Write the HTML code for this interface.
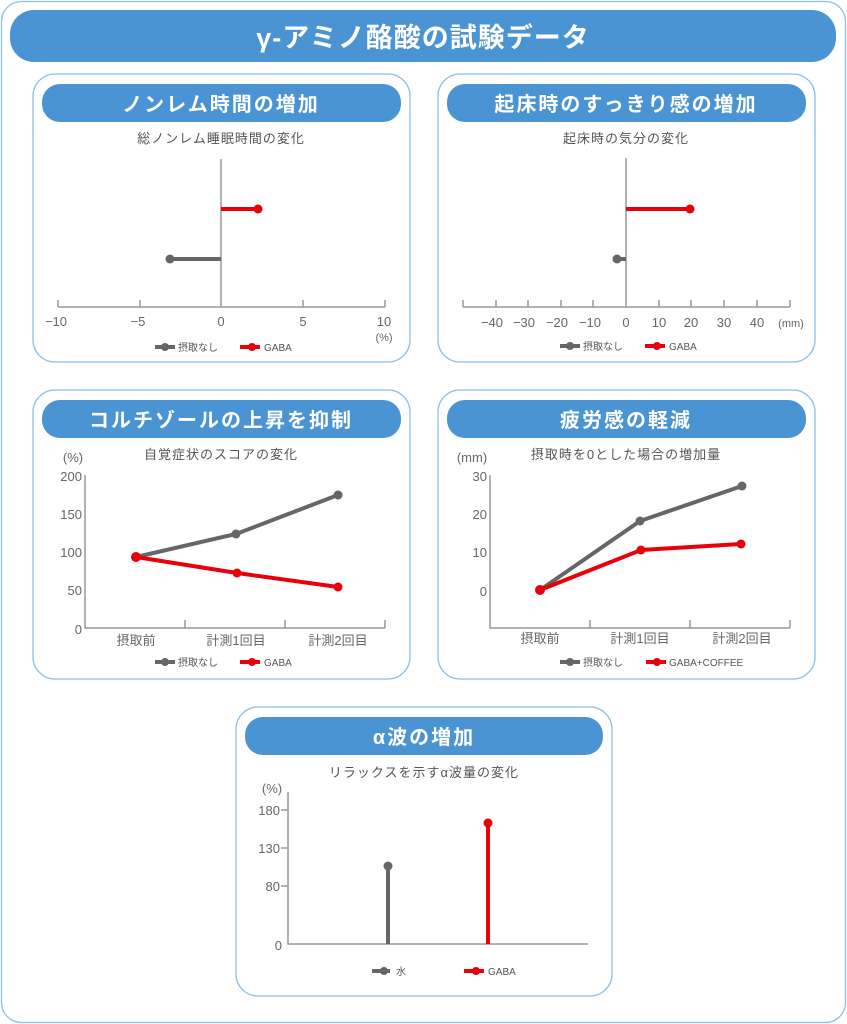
<!DOCTYPE html>
<html><head><meta charset="utf-8"><style>
html,body{margin:0;padding:0;background:#fff;}
svg{display:block;}
text{font-family:"Liberation Sans","Noto Sans CJK JP",sans-serif;}
.t{fill:#666;font-size:13px;}
.s{fill:#555;font-size:13px;letter-spacing:1px;}
.h{fill:#fff;font-size:20px;font-weight:bold;letter-spacing:2px;}
.l{fill:#555;font-size:10px;}
.ax{stroke:#999;stroke-width:1.5;fill:none;}
.g{stroke:#666;stroke-width:4;fill:none;}
.r{stroke:#e8000b;stroke-width:4;fill:none;}
.gd{fill:#666;}
.rd{fill:#e8000b;}
.p{fill:#fff;stroke:#8cc0e6;stroke-width:1.3;}
.hb{fill:#4a94d4;}
</style></head><body>
<svg width="847" height="1024" viewBox="0 0 847 1024">
<rect x="1.5" y="1.5" width="844" height="1021" rx="20" fill="#fff" stroke="#8cc0e6" stroke-width="1.3"/>
<rect x="10" y="10" width="826" height="52" rx="24" class="hb"/>
<text x="423" y="47" text-anchor="middle" fill="#fff" font-size="27" font-weight="bold" letter-spacing="1">γ-アミノ酪酸の試験データ</text>

<!-- Panel 1 -->
<rect x="33" y="74" width="377" height="288" rx="22" class="p"/>
<rect x="42" y="84" width="359" height="38" rx="18" class="hb"/>
<text x="221" y="111" text-anchor="middle" class="h">ノンレム時間の増加</text>
<text x="221" y="143" text-anchor="middle" class="s">総ノンレム睡眠時間の変化</text>
<line x1="221" y1="159" x2="221" y2="307" class="ax"/>
<path d="M58 307H385M58 300V307M140 300V307M303 300V307M385 300V307" class="ax"/>
<g class="t" text-anchor="middle">
<text x="56" y="326">−10</text><text x="138" y="326">−5</text><text x="221" y="326">0</text><text x="303" y="326">5</text><text x="384" y="326">10</text>
<text x="384" y="341" font-size="11">(%)</text></g>
<line x1="221" y1="209" x2="258" y2="209" class="r"/><circle cx="258" cy="209" r="4.5" class="rd"/>
<line x1="170" y1="259" x2="221" y2="259" class="g"/><circle cx="170" cy="259" r="4.5" class="gd"/>
<line x1="155" y1="347" x2="175" y2="347" class="g" stroke-width="3"/><circle cx="165" cy="347" r="4" class="gd"/>
<text x="178" y="351" class="l">摂取なし</text>
<line x1="240" y1="347" x2="260" y2="347" class="r" stroke-width="3"/><circle cx="252" cy="347" r="4" class="rd"/>
<text x="264" y="351" class="l">GABA</text>

<!-- Panel 2 -->
<rect x="438" y="74" width="377" height="288" rx="22" class="p"/>
<rect x="447" y="84" width="359" height="38" rx="18" class="hb"/>
<text x="626" y="111" text-anchor="middle" class="h">起床時のすっきり感の増加</text>
<text x="626" y="143" text-anchor="middle" class="s">起床時の気分の変化</text>
<line x1="626" y1="158" x2="626" y2="307" class="ax"/>
<path d="M463 307H790M463 300V307M496 300V307M528 300V307M561 300V307M593 300V307M659 300V307M691 300V307M724 300V307M757 300V307M790 300V307" class="ax"/>
<g class="t" text-anchor="middle">
<text x="492" y="327">−40</text><text x="524" y="327">−30</text><text x="557" y="327">−20</text><text x="590" y="327">−10</text><text x="626" y="327">0</text><text x="659" y="327">10</text><text x="691" y="327">20</text><text x="724" y="327">30</text><text x="757" y="327">40</text><text x="791" y="327" font-size="11">(mm)</text></g>
<line x1="626" y1="209" x2="690" y2="209" class="r"/><circle cx="690" cy="209" r="4.5" class="rd"/>
<line x1="617" y1="259" x2="626" y2="259" class="g"/><circle cx="617" cy="259" r="4.5" class="gd"/>
<line x1="560" y1="346" x2="580" y2="346" class="g" stroke-width="3"/><circle cx="570" cy="346" r="4" class="gd"/>
<text x="583" y="350" class="l">摂取なし</text>
<line x1="645" y1="346" x2="665" y2="346" class="r" stroke-width="3"/><circle cx="657" cy="346" r="4" class="rd"/>
<text x="669" y="350" class="l">GABA</text>

<!-- Panel 3 -->
<rect x="33" y="390" width="377" height="289" rx="22" class="p"/>
<rect x="42" y="400" width="359" height="38" rx="18" class="hb"/>
<text x="221" y="427" text-anchor="middle" class="h">コルチゾールの上昇を抑制</text>
<text x="221" y="459" text-anchor="middle" class="s">自覚症状のスコアの変化</text>
<text x="73" y="462" text-anchor="middle" class="t" font-size="11">(%)</text>
<path d="M85 475V628H385M185 620V628M285 620V628M385 620V628" class="ax"/>
<g class="t" text-anchor="end">
<text x="82" y="481">200</text><text x="82" y="519">150</text><text x="82" y="557">100</text><text x="82" y="595">50</text><text x="82" y="634">0</text></g>
<g class="t" text-anchor="middle"><text x="136" y="645">摂取前</text><text x="236" y="645">計測1回目</text><text x="338" y="645">計測2回目</text></g>
<polyline points="136,557 236,534 338,495" class="g"/>
<circle cx="236" cy="534" r="4.5" class="gd"/><circle cx="338" cy="495" r="4.5" class="gd"/>
<polyline points="136,557 237,573 338,587" class="r"/>
<circle cx="136" cy="557" r="5" class="rd"/><circle cx="237" cy="573" r="4.5" class="rd"/><circle cx="338" cy="587" r="4.5" class="rd"/>
<line x1="155" y1="662" x2="175" y2="662" class="g" stroke-width="3"/><circle cx="165" cy="662" r="4" class="gd"/>
<text x="178" y="666" class="l">摂取なし</text>
<line x1="240" y1="662" x2="260" y2="662" class="r" stroke-width="3"/><circle cx="252" cy="662" r="4" class="rd"/>
<text x="264" y="666" class="l">GABA</text>

<!-- Panel 4 -->
<rect x="438" y="390" width="377" height="289" rx="22" class="p"/>
<rect x="447" y="400" width="359" height="38" rx="18" class="hb"/>
<text x="626" y="427" text-anchor="middle" class="h">疲労感の軽減</text>
<text x="626" y="459" text-anchor="middle" class="s">摂取時を0とした場合の増加量</text>
<text x="472" y="462" text-anchor="middle" class="t" font-size="11">(mm)</text>
<path d="M490 475V628H790M590 620V628M690 620V628M790 620V628" class="ax"/>
<g class="t" text-anchor="end">
<text x="487" y="481">30</text><text x="487" y="519">20</text><text x="487" y="557">10</text><text x="487" y="596">0</text></g>
<g class="t" text-anchor="middle"><text x="540" y="643">摂取前</text><text x="640" y="643">計測1回目</text><text x="742" y="643">計測2回目</text></g>
<polyline points="540,590 640,521 742,486" class="g"/>
<circle cx="640" cy="521" r="4.5" class="gd"/><circle cx="742" cy="486" r="4.5" class="gd"/>
<polyline points="540,590 641,550 741,544" class="r"/>
<circle cx="540" cy="590" r="5" class="rd"/><circle cx="641" cy="550" r="4.5" class="rd"/><circle cx="741" cy="544" r="4.5" class="rd"/>
<line x1="560" y1="662" x2="580" y2="662" class="g" stroke-width="3"/><circle cx="570" cy="662" r="4" class="gd"/>
<text x="583" y="666" class="l">摂取なし</text>
<line x1="646" y1="662" x2="666" y2="662" class="r" stroke-width="3"/><circle cx="657" cy="662" r="4" class="rd"/>
<text x="669" y="666" class="l">GABA+COFFEE</text>

<!-- Panel 5 -->
<rect x="236" y="707" width="376" height="289" rx="22" class="p"/>
<rect x="245" y="717" width="358" height="38" rx="18" class="hb"/>
<text x="424" y="744" text-anchor="middle" class="h">α波の増加</text>
<text x="424" y="777" text-anchor="middle" class="s">リラックスを示すα波量の変化</text>
<text x="272" y="793" text-anchor="middle" class="t" font-size="11">(%)</text>
<path d="M288 792V944H588M281 810H288M281 848H288M281 886H288" class="ax"/>
<g class="t" text-anchor="end">
<text x="280" y="815">180</text><text x="280" y="853">130</text><text x="280" y="891">80</text><text x="282" y="950">0</text></g>
<line x1="388" y1="944" x2="388" y2="866" class="g"/><circle cx="388" cy="866" r="4.5" class="gd"/>
<line x1="488" y1="944" x2="488" y2="823" class="r"/><circle cx="488" cy="823" r="4.5" class="rd"/>
<line x1="372" y1="971" x2="390" y2="971" class="g" stroke-width="3"/><circle cx="384" cy="971" r="4" class="gd"/>
<text x="396" y="975" class="l">水</text>
<line x1="464" y1="971" x2="484" y2="971" class="r" stroke-width="3"/><circle cx="476" cy="971" r="4" class="rd"/>
<text x="488" y="975" class="l">GABA</text>
</svg>
</body></html>
